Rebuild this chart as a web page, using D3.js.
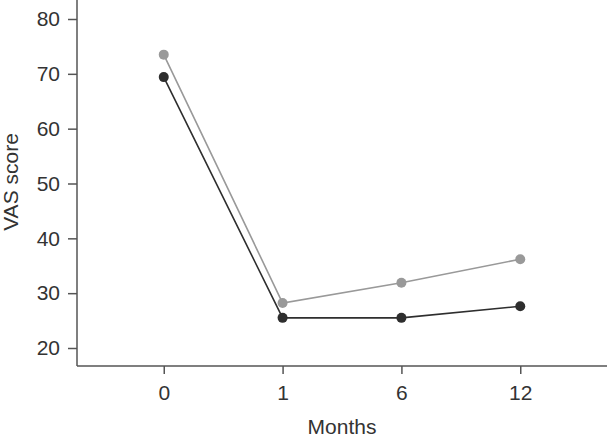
<!DOCTYPE html>
<html>
<head>
<meta charset="utf-8">
<script src="https://cdn.jsdelivr.net/npm/d3@7"></script>
<style>
  body { margin: 0; background: #fff; }
  svg { display: block; font-family: "Liberation Sans", Arial, sans-serif; }
</style>
</head>
<body>
<div id="chart"></div>
<script>
let months = ['0', '1', '6', '12'];
let grayValues = [73.5, 28.2, 31.9, 36.2];
let blackValues = [69.4, 25.5, 25.5, 27.6];
let yTicks = [20, 30, 40, 50, 60, 70, 80];

let width = 608, height = 437;
let left = 77, right = 607, bottom = 366;

let $svg = d3.select('#chart').append('svg')
    .attr('width', width)
    .attr('height', height);

let x = d3.scalePoint()
    .domain(months)
    .range([left, right])
    .padding(0.73);

let y = d3.scaleLinear()
    .domain([20, 80])
    .range([348, 19]);

// axes
let axisColor = '#555';
let $yAxis = $svg.append('g')
    .attr('transform', `translate(${left},0)`)
    .call(d3.axisLeft(y).tickValues(yTicks).tickSize(9).tickPadding(8));
$yAxis.select('.domain').remove();
$svg.append('line')
    .attr('x1', left).attr('x2', left)
    .attr('y1', 0).attr('y2', bottom)
    .attr('stroke', axisColor).attr('stroke-width', 1.5);

let $xAxis = $svg.append('g')
    .attr('transform', `translate(0,${bottom})`)
    .call(d3.axisBottom(x).tickSize(8).tickPadding(11));
$xAxis.select('.domain').remove();
$svg.append('line')
    .attr('x1', left).attr('x2', right)
    .attr('y1', bottom).attr('y2', bottom)
    .attr('stroke', axisColor).attr('stroke-width', 1.5);

[$xAxis, $yAxis].forEach($a => {
    $a.attr('font-size', null).attr('font-family', null);
    $a.selectAll('.tick line').attr('stroke', axisColor).attr('stroke-width', 1.5);
    $a.selectAll('.tick text')
        .attr('fill', '#333')
        .style('font-size', '21px')
        .style('font-family', '"Liberation Sans", Arial, sans-serif');
});

// axis titles
$svg.append('text')
    .attr('x', 342).attr('y', 434)
    .attr('text-anchor', 'middle')
    .attr('fill', '#333')
    .style('font-size', '21px')
    .text('Months');
$svg.append('text')
    .attr('transform', `translate(18,182) rotate(-90)`)
    .attr('text-anchor', 'middle')
    .attr('fill', '#333')
    .style('font-size', '21px')
    .text('VAS score');

// series
let series = [
    {values: grayValues, color: '#999999'},
    {values: blackValues, color: '#2e2e2e'}
];
let line = d3.line()
    .x((d, i) => x(months[i]))
    .y(d => y(d));

series.forEach(s => {
    $svg.append('path')
        .datum(s.values)
        .attr('d', line)
        .attr('fill', 'none')
        .attr('stroke', s.color)
        .attr('stroke-width', 1.6);
    $svg.append('g').selectAll('circle')
        .data(s.values)
        .join('circle')
        .attr('cx', (d, i) => x(months[i]))
        .attr('cy', d => y(d))
        .attr('r', 5)
        .attr('fill', s.color);
});
</script>
</body>
</html>
